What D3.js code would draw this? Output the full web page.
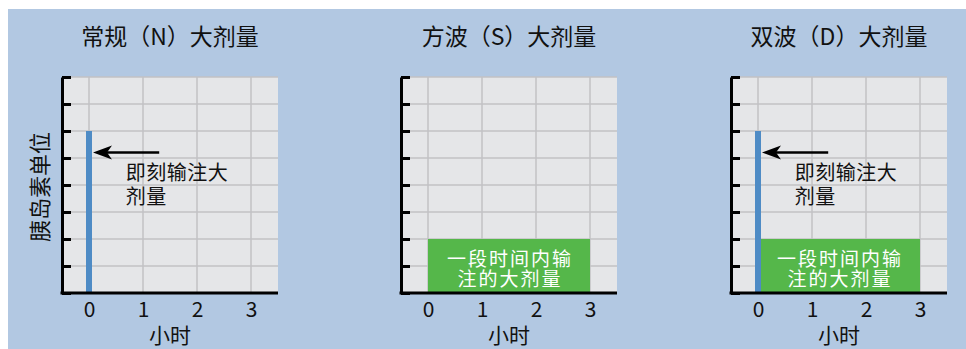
<!DOCTYPE html>
<html><head><meta charset="utf-8">
<script src="https://cdn.jsdelivr.net/npm/d3@7"></script>
<style>
html,body{margin:0;padding:0;background:#fff;}
svg{display:block;}
text{font-family:"Noto Sans CJK SC","Noto Sans",sans-serif;}
</style></head>
<body>
<svg id="c" width="966" height="349"></svg>
<script>
// ---- data ----
const panelTitles = ["常规（N）大剂量", "方波（S）大剂量", "双波（D）大剂量"];
const bolusValues = [6, 0, 6];          // instant bolus height (units)
const extendedValues = [0, 2, 2];       // extended bolus height (units)
const extendedStart = [0, 0, 0];        // hours
const extendedEnd = [3, 3, 3];          // hours
const xTicks = [0, 1, 2, 3];
const yTicks = [0, 1, 2, 3, 4, 5, 6, 7, 8];
const bolusLabel = ["即刻输注大", "剂量"];
const extendedLabel = ["一段时间内输", "注的大剂量"];
const xLabel = "小时";
const yLabel = "胰岛素单位";

// ---- layout ----
const svg = d3.select("#c");
svg.append("rect").attr("x", 8).attr("y", 9).attr("width", 958).attr("height", 340).attr("fill", "#b2c8e2");

const axisX = [62, 401, 731];
const pTop = 77, pBottom = 293, pw = 216;
const ph = pBottom - pTop;
const x = d3.scaleLinear().domain([-0.5, 3.5]).range([0, pw]);
const y = d3.scaleLinear().domain([0, 8]).range([ph, 0]);

panelTitles.forEach((title, i) => {
  const g = svg.append("g").attr("transform", `translate(${axisX[i]},${pTop})`);
  g.append("rect").attr("width", pw).attr("height", ph).attr("fill", "#e5e6e8");
  // grid
  g.selectAll(".hg").data(yTicks).enter().append("line")
    .attr("x1", 0).attr("x2", pw).attr("y1", d => y(d)).attr("y2", d => y(d))
    .attr("stroke", "#c2c2c4").attr("stroke-width", 1.5);
  g.selectAll(".vg").data(xTicks).enter().append("line")
    .attr("x1", d => x(d)).attr("x2", d => x(d)).attr("y1", 0).attr("y2", ph)
    .attr("stroke", "#c2c2c4").attr("stroke-width", 1.5);
  // extended bolus
  if (extendedValues[i] > 0) {
    g.append("rect")
      .attr("x", x(extendedStart[i])).attr("width", x(extendedEnd[i]) - x(extendedStart[i]))
      .attr("y", y(extendedValues[i])).attr("height", y(0) - y(extendedValues[i]))
      .attr("fill", "#55b74a");
    const cx = x((extendedStart[i] + extendedEnd[i]) / 2) + 1;
    extendedLabel.forEach((t, k) => {
      g.append("text").attr("x", cx).attr("y", y(extendedValues[i]) + 18 + k * 20)
        .attr("text-anchor", "middle").attr("dominant-baseline", "central")
        .attr("font-size", 19).attr("letter-spacing", 2).attr("fill", "#fff").text(t);
    });
  }
  // instant bolus
  if (bolusValues[i] > 0) {
    g.append("rect").attr("x", x(0) - 3).attr("width", 6)
      .attr("y", y(bolusValues[i])).attr("height", y(0) - y(bolusValues[i]))
      .attr("fill", "#4e8bc5");
    const ay = y(5.2);
    const tx = x(0) + 4;
    g.append("line").attr("x1", x(1.3)).attr("x2", tx + 14).attr("y1", ay).attr("y2", ay)
      .attr("stroke", "#000").attr("stroke-width", 2.5);
    g.append("path").attr("d", `M${tx},${ay} L${tx + 19},${ay - 7} L${tx + 14},${ay} L${tx + 19},${ay + 7} Z`)
      .attr("fill", "#000");
    bolusLabel.forEach((t, k) => {
      g.append("text").attr("x", x(0.68)).attr("y", y(4.5) + k * 24)
        .attr("dominant-baseline", "central")
        .attr("font-size", 20).attr("letter-spacing", 0.5).attr("fill", "#111").text(t);
    });
  }
  // axes
  const ya = d3.axisLeft(y).tickValues(yTicks).tickSizeInner(-9).tickSizeOuter(0).tickFormat("");
  const yg = g.append("g").call(ya);
  yg.selectAll("path,line").attr("stroke", "#000").attr("stroke-width", 3);
  const xa = d3.axisBottom(x).tickValues(xTicks).tickSize(0).tickPadding(9).tickFormat(d3.format("d"));
  const xg = g.append("g").attr("transform", `translate(0,${ph})`).call(xa);
  xg.select("path").attr("stroke", "#000").attr("stroke-width", 3).attr("d", `M-1.5,0H${pw}`);
  xg.selectAll("text").attr("font-size", 21).attr("fill", "#111")
    .attr("font-family", "'Noto Sans','Open Sans',sans-serif");
  // labels
  g.append("text").attr("x", pw / 2).attr("y", 35 - pTop).attr("text-anchor", "middle")
    .attr("dominant-baseline", "central").attr("font-size", 23).attr("fill", "#111").text(title);
  g.append("text").attr("x", pw / 2).attr("y", 334 - pTop).attr("text-anchor", "middle")
    .attr("dominant-baseline", "central").attr("font-size", 21).attr("fill", "#111").text(xLabel);
  if (i === 0) {
    g.append("text").attr("transform", `translate(${38 - axisX[0]},${ph / 2 + 2}) rotate(-90)`)
      .attr("text-anchor", "middle").attr("dominant-baseline", "central")
      .attr("font-size", 22).attr("fill", "#111").text(yLabel);
  }
});
</script>
</body></html>
